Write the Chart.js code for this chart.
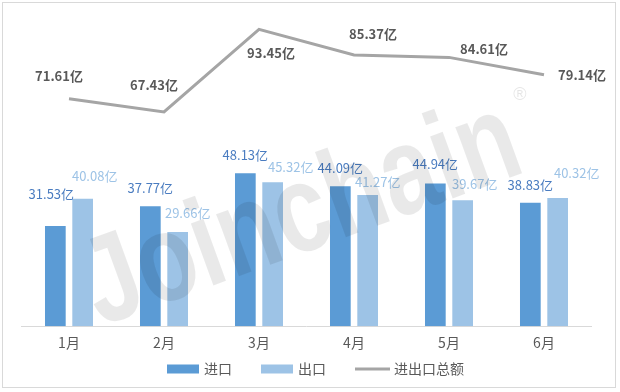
<!DOCTYPE html>
<html>
<head>
<meta charset="utf-8">
<script src="https://cdn.jsdelivr.net/npm/chart.js@4"></script>
<style>
  body { margin: 0; background: #fff; }
  .wrap { width: 620px; height: 392px; position: relative; }
</style>
</head>
<body>
<div class="wrap"><canvas id="tradeChart"></canvas></div>
<script>
const months = ['1月', '2月', '3月', '4月', '5月', '6月'];
const importVals = [31.53, 37.77, 48.13, 44.09, 44.94, 38.83]; // 进口
const exportVals = [40.08, 29.66, 45.32, 41.27, 39.67, 40.32]; // 出口
const totalVals = [71.61, 67.43, 93.45, 85.37, 84.61, 79.14];  // 进出口总额
const yMax = 100;

const FONT = '"Microsoft YaHei", "Noto Sans CJK SC", sans-serif';

// label nudges (px) relative to the top of each mark, copied from the excel layout
const importNudge = [[-4, -32], [0, -18], [0, -18], [0, -18], [0, -19], [0, -18]];
const exportNudge = [[12, -23], [10, -19], [18, -15], [10, -13], [12, -16], [19, -25]];
const totalNudge = [[-10, -23], [-10, -27], [12, 24], [19, -21], [35, -8], [38, 0]];

const frameAndLabels = {
  id: 'frameAndLabels',
  beforeDraw(chart) {
    const ctx = chart.ctx;
    ctx.save();
    ctx.strokeStyle = '#D9D9D9';
    ctx.lineWidth = 1;
    ctx.strokeRect(2.5, 2.5, 613, 385);
    ctx.restore();
  },
  afterDatasetsDraw(chart) {
    const ctx = chart.ctx;
    const sets = [
      { idx: 0, vals: importVals, nudge: importNudge, color: '#4A7CC0', weight: 'normal' },
      { idx: 1, vals: exportVals, nudge: exportNudge, color: '#9DC3E6', weight: 'normal' },
      { idx: 2, vals: totalVals, nudge: totalNudge, color: '#595959', weight: 'bold' }
    ];
    ctx.save();
    ctx.textAlign = 'center';
    ctx.textBaseline = 'middle';
    sets.forEach(s => {
      const meta = chart.getDatasetMeta(s.idx);
      ctx.fillStyle = s.color;
      ctx.font = s.weight + ' 13px ' + FONT;
      meta.data.forEach((el, i) => {
        ctx.fillText(s.vals[i].toFixed(2) + '亿', el.x + s.nudge[i][0], el.y + s.nudge[i][1]);
      });
    });
    ctx.restore();
  },
  afterDraw(chart) {
    const ctx = chart.ctx;
    // legend, drawn by hand so it sits close under the month labels
    ctx.save();
    ctx.font = '14px ' + FONT;
    ctx.textBaseline = 'middle';
    ctx.fillStyle = '#595959';
    const ly = 369;
    let x = 167;
    chart.data.datasets.forEach((ds, i) => {
      if (i === 2) {
        ctx.strokeStyle = ds.borderColor;
        ctx.lineWidth = 3;
        ctx.beginPath();
        ctx.moveTo(x, ly);
        ctx.lineTo(x + 35, ly);
        ctx.stroke();
        x += 39;
      } else {
        ctx.fillStyle = ds.backgroundColor;
        ctx.fillRect(x, ly - 4.5, 32, 9);
        x += 37;
      }
      ctx.fillStyle = '#595959';
      ctx.fillText(ds.label, x, ly);
      x += ctx.measureText(ds.label).width + 29;
    });
    ctx.restore();

    // watermark on top of everything
    ctx.save();
    ctx.fillStyle = 'rgba(0,0,0,0.085)';
    ctx.translate(302, 216);
    ctx.rotate(-20 * Math.PI / 180);
    ctx.scale(0.78, 1);
    ctx.font = 'bold 125px "Liberation Sans", Arial, sans-serif';
    ctx.textAlign = 'center';
    ctx.textBaseline = 'alphabetic';
    ctx.fillText('Joinchain', 0, 35);
    ctx.restore();
    ctx.save();
    ctx.fillStyle = 'rgba(0,0,0,0.1)';
    ctx.font = '18px "Liberation Sans", Arial, sans-serif';
    ctx.textAlign = 'center';
    ctx.textBaseline = 'middle';
    ctx.fillText('®', 520, 95);
    ctx.restore();
  }
};

new Chart(document.getElementById('tradeChart'), {
  type: 'bar',
  data: {
    labels: months,
    datasets: [
      {
        label: '进口',
        data: importVals,
        backgroundColor: '#5B9BD5',
        categoryPercentage: 0.575,
        barPercentage: 0.758
      },
      {
        label: '出口',
        data: exportVals,
        backgroundColor: '#9DC3E6',
        categoryPercentage: 0.575,
        barPercentage: 0.758
      },
      {
        type: 'line',
        label: '进出口总额',
        data: totalVals,
        borderColor: '#A5A5A5',
        backgroundColor: '#A5A5A5',
        borderWidth: 3,
        pointRadius: 0,
        tension: 0
      }
    ]
  },
  options: {
    responsive: true,
    maintainAspectRatio: false,
    animation: false,
    layout: {
      padding: { top: 8.5, left: 21.5, right: 28.5, bottom: 33 }
    },
    plugins: {
      tooltip: { enabled: false },
      legend: { display: false }
    },
    scales: {
      x: {
        grid: { display: false, drawTicks: false },
        border: { color: '#D9D9D9', width: 1 },
        ticks: { color: '#595959', font: { size: 14, family: FONT }, padding: 8 }
      },
      y: {
        display: false,
        min: 0,
        max: yMax
      }
    }
  },
  plugins: [frameAndLabels]
});
</script>
</body>
</html>
